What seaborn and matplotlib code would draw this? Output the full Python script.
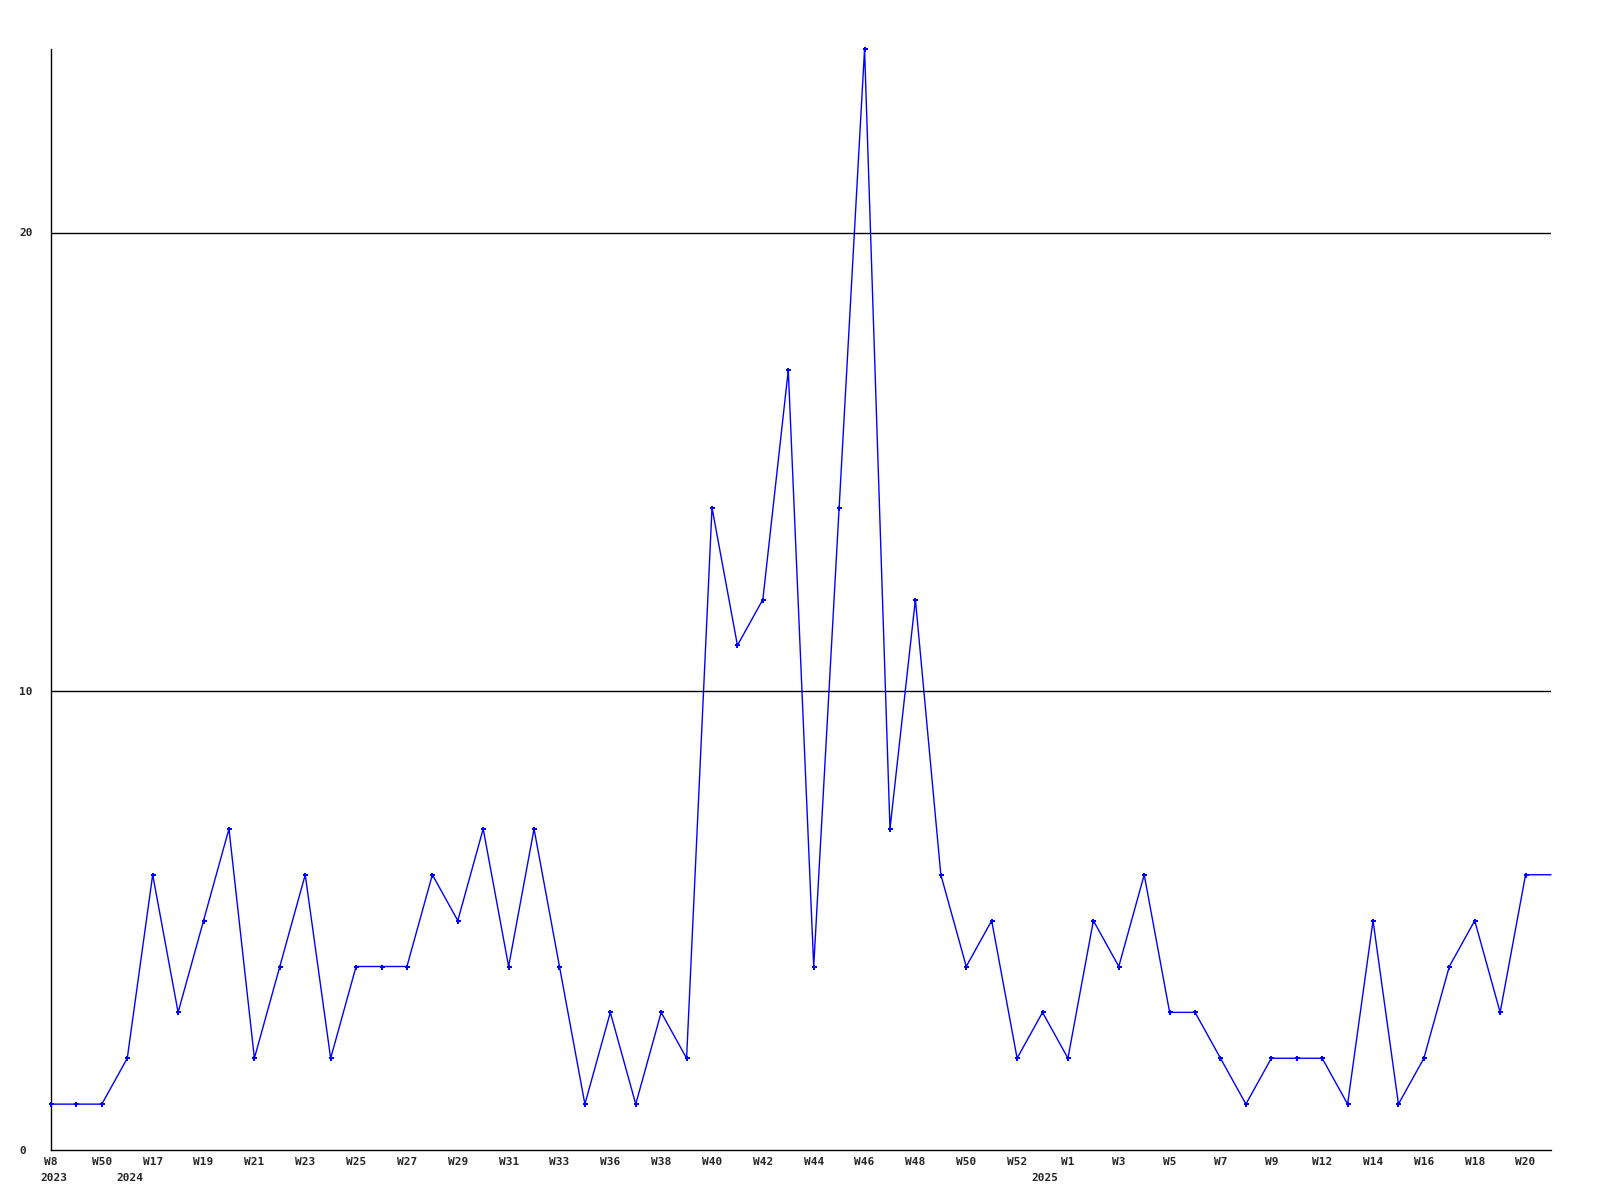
import matplotlib
matplotlib.use("Agg")
import matplotlib.pyplot as plt
import matplotlib.transforms as mtransforms
import seaborn as sns
import pandas as pd

# Weekly counts (one point per reported week)
values = [1, 1, 1, 2, 6, 3, 5, 7, 2, 4,
          6, 2, 4, 4, 4, 6, 5, 7, 4, 7,
          4, 1, 3, 1, 3, 2, 14, 11, 12, 17,
          4, 14, 24, 7, 12, 6, 4, 5, 2, 3,
          2, 5, 4, 6, 3, 3, 2, 1, 2, 2,
          2, 1, 5, 1, 2, 4, 5, 3, 6]

# Labels shown on every second point
week_labels = ["W8", "W50", "W17", "W19", "W21", "W23", "W25", "W27", "W29", "W31",
               "W33", "W36", "W38", "W40", "W42", "W44", "W46", "W48", "W50", "W52",
               "W1", "W3", "W5", "W7", "W9", "W12", "W14", "W16", "W18", "W20"]

# Year labels: (point index, text)
year_idx = [0, 3, 39]
year_labels = ["2023", "2024", "2025"]

y_ticks = [0, 10, 20]
y_max = 24

sns.set_style("white")
plt.rcParams["font.family"] = ["DejaVu Sans Mono", "DejaVu Sans"]

n = len(values)
# line continues one step past the last point at the same level
df = pd.DataFrame({"x": list(range(n + 1)), "y": values + [values[-1]]})

fig = plt.figure(figsize=(16, 12), dpi=100)
ax = fig.add_axes([51 / 1600, 1 - 1150 / 1200, 1500 / 1600, (1150 - 49) / 1200])

for yv in y_ticks[1:]:
    ax.axhline(yv, color="black", lw=1.0, zorder=1)

sns.lineplot(data=df, x="x", y="y", ax=ax, color="#0000ff", lw=1.0,
             marker="P", markersize=3.6, markeredgewidth=0,
             markevery=list(range(n)), zorder=3, clip_on=False)

ax.set_xlim(0, n)
ax.set_ylim(0, y_max)
ax.set_xlabel("")
ax.set_ylabel("")

for s in ["top", "right"]:
    ax.spines[s].set_visible(False)
for s in ["left", "bottom"]:
    ax.spines[s].set_color("black")
    ax.spines[s].set_linewidth(1.0)

ax.set_xticks(list(range(0, n, 2)))
ax.set_xticklabels(week_labels, fontsize=8, fontweight="bold")
ax.tick_params(axis="x", length=0, pad=5)

ax.set_yticks(y_ticks)
ax.set_yticklabels([str(v) for v in y_ticks], fontsize=8, fontweight="bold")
ax.tick_params(axis="y", length=0, pad=23)
for lab in ax.get_yticklabels():
    lab.set_horizontalalignment("left")

trans = mtransforms.blended_transform_factory(ax.transData, ax.transAxes)
for xi, txt in zip(year_idx, year_labels):
    ax.text(xi + 0.1, -0.0205, txt, transform=trans, ha="center", va="top",
            fontsize=8, fontweight="bold", clip_on=False)

fig.savefig("out.png", dpi=100, facecolor="white")
